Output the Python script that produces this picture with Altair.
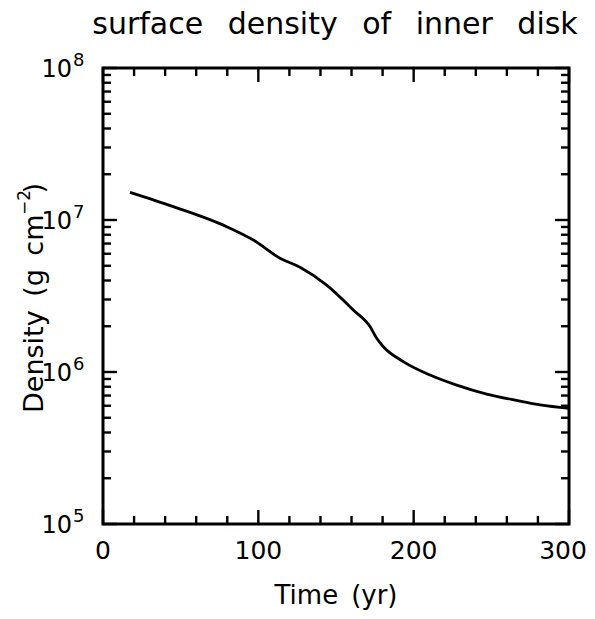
import altair as alt
import pandas as pd

# ---- data ----
time_yr = [17.4, 45.3, 79.6, 96.8, 114.0, 126.8, 144.0, 161.1, 171.9, 176.2,
           180.5, 193.3, 210.5, 227.7, 247.0, 268.5, 281.4, 300.0]
density = [1.52e7, 1.224e7, 9.04e6, 7.38e6, 5.60e6, 4.89e6, 3.73e6, 2.56e6, 1.99e6, 1.667e6,
           1.466e6, 1.17e6, 9.55e5, 8.20e5, 7.16e5, 6.44e5, 6.07e5, 5.77e5]

x_major = [0, 100, 200, 300]
x_minor = [20, 40, 60, 80, 120, 140, 160, 180, 220, 240, 260, 280]
y_major = [1e5, 1e6, 1e7, 1e8]
y_exp = ["5", "6", "7", "8"]
y_minor = [m * 10 ** k for k in (5, 6, 7) for m in range(2, 10)]

W, H = 466, 456
FONT = "DejaVu Sans"
MAJ, MIN = 14, 8
SW = 2.4

xs = alt.Scale(domain=[0, 300], nice=False, zero=False)
ys = alt.Scale(type="log", domain=[1e5, 1e8], nice=False)
noax = None

curve = pd.DataFrame({"t": time_yr, "d": density})
line = alt.Chart(curve).mark_line(color="black", strokeWidth=2.8, interpolate="monotone").encode(
    x=alt.X("t:Q", scale=xs, axis=noax),
    y=alt.Y("d:Q", scale=ys, axis=noax),
)

def xticks(vals, length, bottom):
    df = pd.DataFrame({"v": vals})
    if bottom:
        yy, yy2 = H, H - length
    else:
        yy, yy2 = 0, length
    return alt.Chart(df).mark_rule(color="black", strokeWidth=SW).encode(
        x=alt.X("v:Q", scale=xs, axis=noax), y=alt.value(yy), y2=alt.value(yy2))

def yticks(vals, length, left):
    df = pd.DataFrame({"v": vals})
    if left:
        xx, xx2 = 0, length
    else:
        xx, xx2 = W, W - length
    return alt.Chart(df).mark_rule(color="black", strokeWidth=SW).encode(
        y=alt.Y("v:Q", scale=ys, axis=noax), x=alt.value(xx), x2=alt.value(xx2))

ticks = [xticks(x_major, MAJ, True), xticks(x_minor, MIN, True),
         xticks(x_major, MAJ, False), xticks(x_minor, MIN, False),
         yticks(y_major, MAJ, True), yticks(y_minor, MIN, True),
         yticks(y_major, MAJ, False), yticks(y_minor, MIN, False)]

xlab_df = pd.DataFrame({"v": x_major, "s": [str(v) for v in x_major]})
xlab = alt.Chart(xlab_df.iloc[:-1]).mark_text(
    font=FONT, fontSize=25, baseline="alphabetic", align="center", color="black").encode(
    x=alt.X("v:Q", scale=xs, axis=noax), y=alt.value(H + 35), text="s:N")
xlab_last = alt.Chart(xlab_df.iloc[-1:]).mark_text(
    font=FONT, fontSize=25, baseline="alphabetic", align="center", color="black", dx=-6).encode(
    x=alt.X("v:Q", scale=xs, axis=noax), y=alt.value(H + 35), text="s:N")

ydf = pd.DataFrame({"v": y_major, "e": y_exp, "b": ["10"] * 4})
ylab10 = alt.Chart(ydf).mark_text(
    font=FONT, fontSize=24, baseline="alphabetic", align="right", color="black", dy=9).encode(
    y=alt.Y("v:Q", scale=ys, axis=noax), x=alt.value(-31), text="b:N")
ylabexp = alt.Chart(ydf).mark_text(
    font=FONT, fontSize=18, baseline="alphabetic", align="left", color="black", dy=-2).encode(
    y=alt.Y("v:Q", scale=ys, axis=noax), x=alt.value(-30), text="e:N")

one = pd.DataFrame({"k": [0]})
title = alt.Chart(one).mark_text(
    font=FONT, fontSize=30, baseline="alphabetic", align="center", color="black",
    text="surface\u2002 density\u2002 of\u2002 inner\u2002 disk").encode(
    x=alt.value(W / 2 - 1), y=alt.value(-34))
xtitle = alt.Chart(one).mark_text(
    font=FONT, fontSize=26, baseline="alphabetic", align="center", color="black",
    text="Time\u2002(yr)").encode(x=alt.value(W / 2), y=alt.value(H + 80))
ytitle_main = alt.Chart(one).mark_text(
    font=FONT, fontSize=27, baseline="alphabetic", align="left", color="black", angle=270,
    text="Density\u2002(g\u2002cm").encode(x=alt.value(-60), y=alt.value(345))
ytitle_sup = alt.Chart(one).mark_text(
    font=FONT, fontSize=17, baseline="alphabetic", align="right", color="black", angle=270,
    text="\u22122").encode(x=alt.value(-73), y=alt.value(122))
ytitle_end = alt.Chart(one).mark_text(
    font=FONT, fontSize=27, baseline="alphabetic", align="right", color="black", angle=270,
    text=")").encode(x=alt.value(-60), y=alt.value(115))

chart = alt.layer(line, *ticks, xlab, xlab_last, ylab10, ylabexp, title, xtitle,
                  ytitle_main, ytitle_sup, ytitle_end).properties(
    width=W, height=H,
    autosize=alt.AutoSizeParams(type="none"),
    padding={"left": 95, "top": 60, "right": 18, "bottom": 87},
    background="white",
).configure_view(stroke="black", strokeWidth=3)

chart.save("out.html", embed_options={"renderer": "svg", "actions": False})
